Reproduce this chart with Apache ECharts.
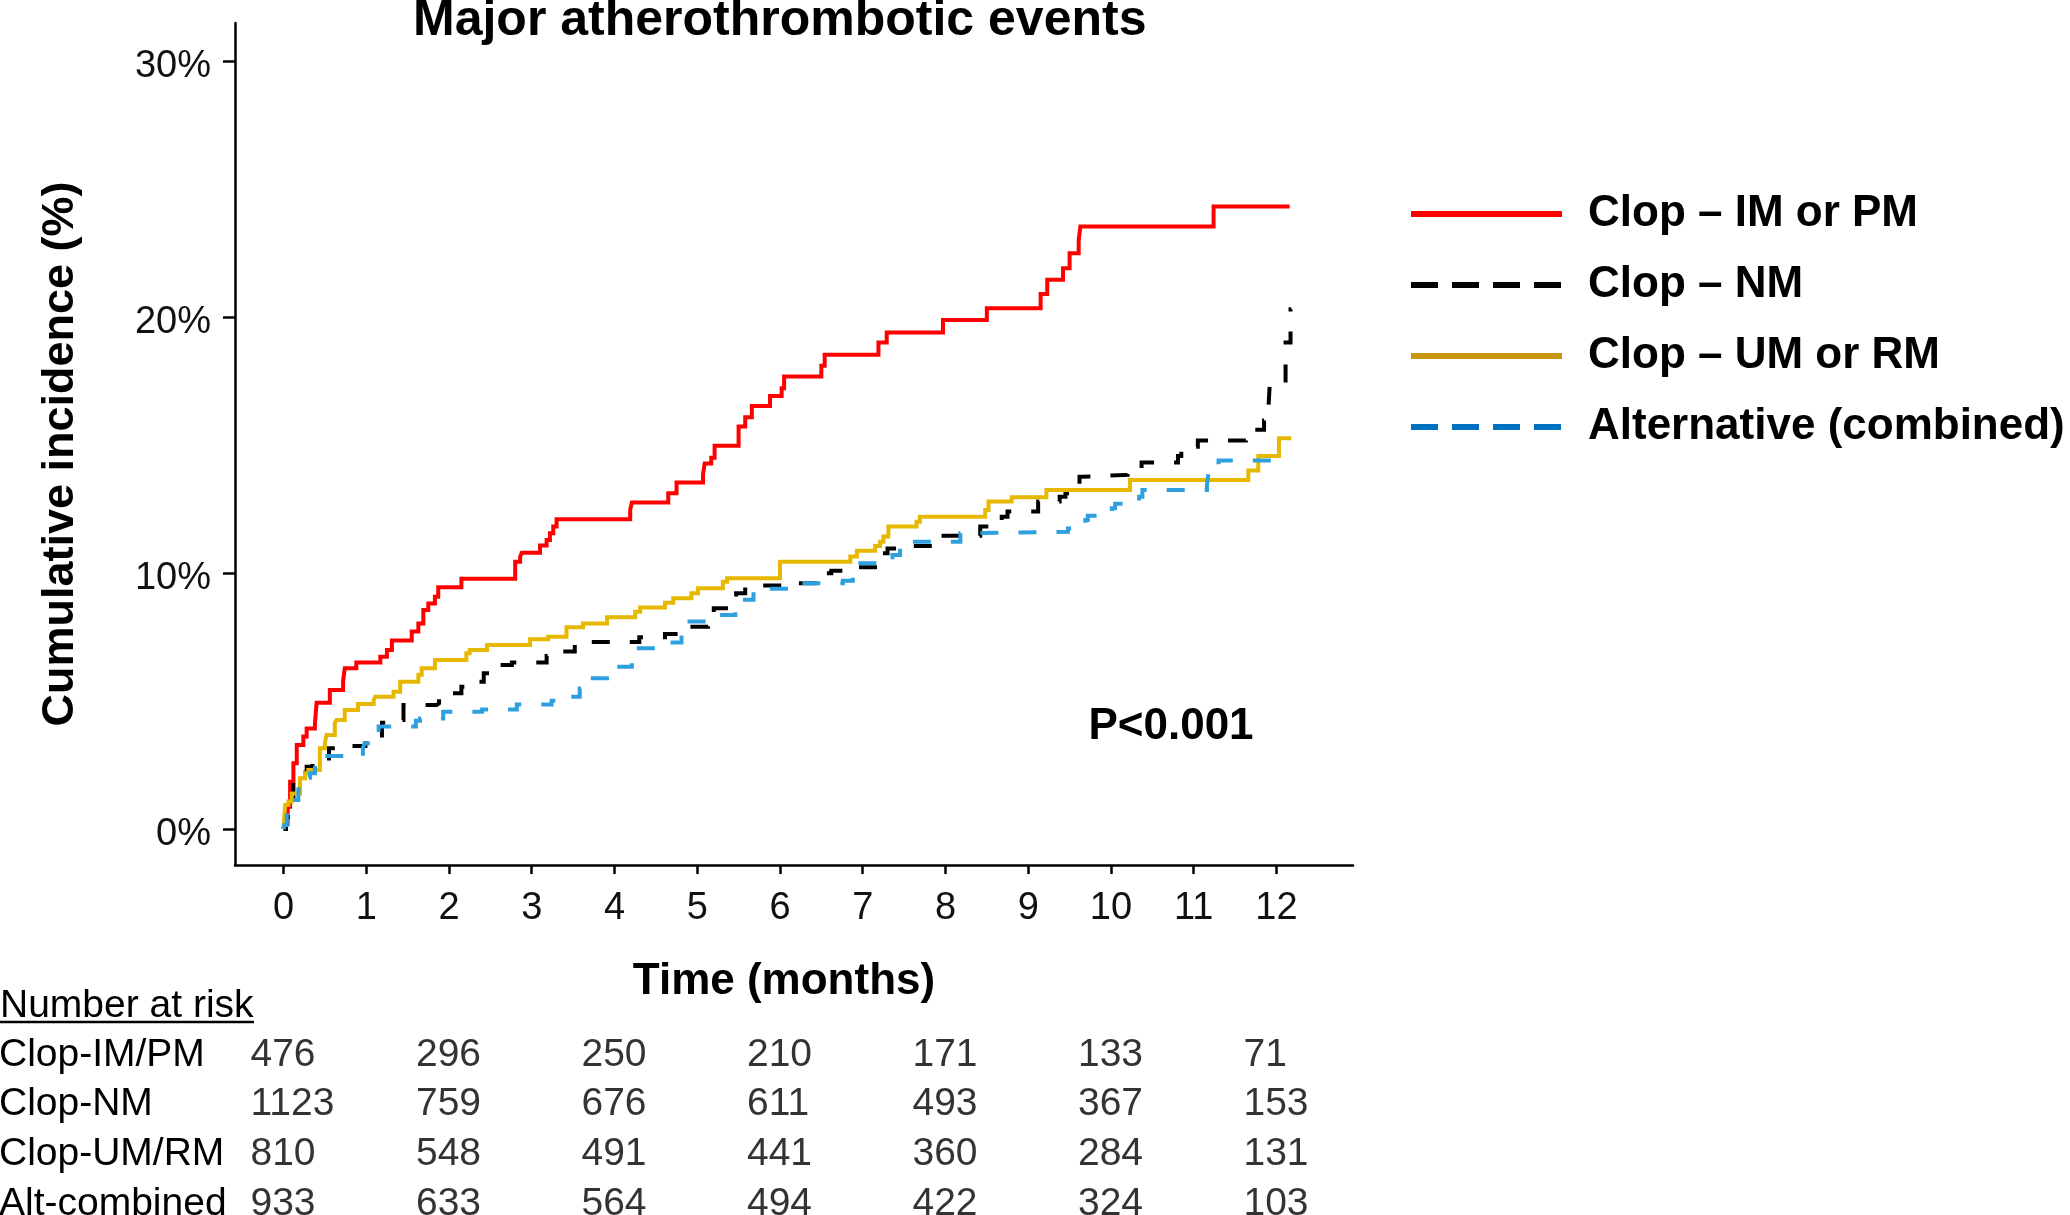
<!DOCTYPE html>
<html><head><meta charset="utf-8">
<script src="https://cdn.jsdelivr.net/npm/echarts@6/dist/echarts.min.js"></script>
<style>html,body{margin:0;padding:0;background:#fff}#c{width:2070px;height:1215px}</style>
</head><body><div id="c"></div>
<script>
const FONT = '"Liberation Sans", Arial, Helvetica, sans-serif';

// ---- tick labels ----
const monthTicks = [0,1,2,3,4,5,6,7,8,9,10,11,12];
const pctTicks = [0,10,20,30];

// ---- series names ----
const seriesNames = ['Clop – IM or PM','Clop – NM','Clop – UM or RM','Alternative (combined)'];

// ---- cumulative incidence (%) step data: [month, percent] ----
const clopIMPM = [[0,0],[0.01,0.2],[0.05,0.87],[0.08,1.85],[0.12,2.57],[0.16,3.28],[0.24,3.61],[0.28,3.93],[0.38,4.13],[0.40,4.93],[0.56,5.43],[0.72,5.75],[0.74,6.28],[0.88,6.50],[1.17,6.73],[1.25,6.99],[1.31,7.36],[1.55,7.71],[1.63,8.03],[1.69,8.55],[1.75,8.81],[1.83,9.07],[1.87,9.44],[2.15,9.77],[2.80,10.44],[2.86,10.64],[2.88,10.79],[3.10,11.07],[3.18,11.29],[3.22,11.55],[3.26,11.81],[3.30,12.10],[4.19,12.46],[4.21,12.75],[4.65,13.11],[4.75,13.53],[5.07,13.85],[5.09,14.28],[5.17,14.50],[5.21,14.97],[5.50,15.72],[5.58,16.08],[5.66,16.52],[5.88,16.91],[6.02,17.21],[6.05,17.67],[6.50,18.09],[6.54,18.52],[7.19,19.0],[7.29,19.39],[7.97,19.88],[8.50,20.34],[9.15,20.90],[9.23,21.45],[9.42,21.90],[9.50,22.49],[9.61,23.0],[9.63,23.53],[11.24,24.31],[12.16,24.31]];
const clopNM = [[0,0],[0.03,0.46],[0.08,1.2],[0.12,1.8],[0.2,2.2],[0.28,2.43],[0.35,2.59],[0.55,3.15],[0.65,3.24],[0.99,3.35],[1.05,3.54],[1.19,4.15],[1.30,4.26],[1.45,4.84],[1.85,4.91],[1.88,5.30],[2.15,5.56],[2.25,5.75],[2.42,6.08],[2.50,6.41],[2.76,6.50],[3.18,6.76],[3.30,6.93],[3.52,7.19],[3.68,7.30],[4.30,7.49],[4.61,7.62],[4.78,7.77],[4.88,7.90],[5.13,8.23],[5.20,8.62],[5.40,8.95],[5.47,9.21],[5.58,9.51],[6.12,9.60],[6.48,9.99],[6.62,10.09],[6.93,10.22],[7.21,10.77],[7.30,10.96],[7.55,11.05],[7.90,11.45],[8.42,11.81],[8.68,12.20],[8.75,12.40],[9.12,12.79],[9.38,12.98],[9.45,13.11],[9.62,13.76],[9.66,13.83],[10.20,14.05],[10.37,14.31],[10.81,14.57],[10.85,14.93],[11.05,15.17],[11.63,15.59],[11.85,15.95],[11.90,16.30],[11.92,17.41],[12.11,19.0],[12.17,20.3],[12.18,20.3]];
const clopUMRM = [[0,0],[0.02,0.94],[0.06,1.07],[0.10,1.39],[0.20,1.98],[0.26,2.18],[0.30,2.30],[0.44,3.15],[0.50,3.35],[0.52,3.67],[0.62,4.13],[0.64,4.26],[0.74,4.65],[0.90,4.88],[1.09,5.04],[1.11,5.17],[1.33,5.36],[1.41,5.75],[1.63,6.02],[1.67,6.28],[1.83,6.60],[2.21,6.86],[2.25,6.99],[2.46,7.19],[2.98,7.41],[3.20,7.51],[3.42,7.88],[3.62,8.03],[3.91,8.27],[4.25,8.49],[4.31,8.65],[4.61,8.84],[4.71,9.01],[4.93,9.21],[5.01,9.40],[5.31,9.66],[5.36,9.79],[6.0,10.44],[6.85,10.64],[6.93,10.87],[7.15,11.05],[7.21,11.22],[7.25,11.42],[7.31,11.81],[7.65,12.0],[7.69,12.20],[8.48,12.46],[8.52,12.79],[8.80,12.96],[9.22,13.24],[10.23,13.63],[11.66,14.0],[11.78,14.57],[12.03,15.26],[12.18,15.26]];
const altCombined = [[0,0],[0.01,0.16],[0.04,0.61],[0.10,0.9],[0.14,1.13],[0.18,1.72],[0.26,2.0],[0.32,2.18],[0.38,2.59],[0.50,2.85],[0.96,3.15],[0.98,3.35],[1.15,4.0],[1.60,4.23],[1.65,4.32],[1.93,4.58],[2.40,4.67],[2.82,4.86],[3.24,5.01],[3.32,5.17],[3.58,5.49],[3.64,5.89],[3.91,6.02],[4.0,6.34],[4.21,6.54],[4.27,7.06],[4.49,7.12],[4.56,7.28],[4.81,7.64],[4.87,8.10],[5.15,8.16],[5.19,8.36],[5.46,8.68],[5.50,8.95],[5.68,9.38],[6.19,9.60],[6.76,9.70],[6.88,10.38],[7.36,10.70],[7.45,11.22],[8.18,11.55],[8.30,11.61],[9.48,11.74],[9.69,12.07],[9.72,12.23],[10.01,12.53],[10.05,12.70],[10.34,12.98],[10.38,13.24],[11.16,13.44],[11.18,13.96],[11.30,14.39],[12.0,14.39]];

// ---- number at risk table ----
const riskTimes = [0,2,4,6,8,10,12];
const riskRows = ['Clop-IM/PM','Clop-NM','Clop-UM/RM','Alt-combined'];
const riskRowIdx = [0,1,2,3];
const riskIMPM = [476,296,250,210,171,133,71];
const riskNM = [1123,759,676,611,493,367,153];
const riskUMRM = [810,548,491,441,360,284,131];
const riskAlt = [933,633,564,494,422,324,103];

// ---- styles ----
const lineColors = ['#FF0000','#000000','#E7B800','#2E9FDF'];
const legendColors = ['#FF0000','#000000','#C8960C','#0070C0'];
const dashed = [false,true,false,true];

const curves = [clopIMPM, clopNM, clopUMRM, altCombined];
const riskData = [riskIMPM, riskNM, riskUMRM, riskAlt];

const tableCells = [];
riskData.forEach((row, r) => row.forEach((v, c) => tableCells.push([riskTimes[c], riskRowIdx[r], v])));

const lineSeries = curves.map((d, i) => ({
  name: seriesNames[i], type: 'line', step: 'end', data: d,
  xAxisIndex: 0, yAxisIndex: 0, symbol: 'none', showSymbol: false, silent: true,
  lineStyle: { color: lineColors[i], width: 4, type: dashed[i] ? [18, 20] : 'solid', cap: 'butt', join: 'miter' },
  itemStyle: { color: lineColors[i] }, z: 2 + i
}));

const chart = echarts.init(document.getElementById('c'));
chart.setOption({
  animation: false,
  backgroundColor: '#fff',
  grid: [
    { left: 235, right: 717, top: 23, bottom: 350, outerBoundsMode: 'none', containLabel: false },
    { left: 235, right: 717, top: 1030, bottom: 0, outerBoundsMode: 'none', containLabel: false }
  ],
  xAxis: [
    { type: 'value', gridIndex: 0, min: -0.586, max: 12.925,
      axisLine: { show: true, onZero: false, lineStyle: { color: '#000', width: 2.5 } },
      axisTick: { show: true, length: 9, lineStyle: { color: '#000', width: 2.5 }, customValues: monthTicks },
      axisLabel: { show: true, margin: 25, fontFamily: FONT, fontSize: 38, lineHeight: 38, color: '#111', customValues: monthTicks },
      splitLine: { show: false } },
    { type: 'value', gridIndex: 1, min: -0.586, max: 12.925, show: false }
  ],
  yAxis: [
    { type: 'value', gridIndex: 0, min: -1.406, max: 31.48,
      axisLine: { show: true, onZero: false, lineStyle: { color: '#000', width: 2.5 } },
      axisTick: { show: true, length: 12, lineStyle: { color: '#000', width: 2.5 }, customValues: pctTicks },
      axisLabel: { show: true, margin: 24, fontFamily: FONT, fontSize: 38, color: '#111', verticalAlign: 'top', lineHeight: 12, formatter: '{value}%', customValues: pctTicks },
      splitLine: { show: false } },
    { type: 'value', gridIndex: 1, inverse: true, min: -0.5, max: 3.215,
      axisLine: { show: false }, axisTick: { show: false }, splitLine: { show: false },
      axisLabel: { show: true, align: 'left', margin: 236, fontFamily: FONT, fontSize: 39, color: '#000', hideOverlap: false,
        customValues: riskRowIdx, formatter: v => riskRows[Math.round(v)] } }
  ],
  legend: {
    orient: 'vertical', left: 1408, top: 189, padding: 0,
    itemWidth: 151, itemHeight: 20, itemGap: 21, selectedMode: false,
    textStyle: { fontFamily: FONT, fontSize: 44, fontWeight: 'bold', color: '#000', lineHeight: 50, padding: [0, 0, 0, 21] },
    data: seriesNames.map((n, i) => ({
      name: n,
      itemStyle: { opacity: 0 },
      lineStyle: { color: legendColors[i], width: 6, type: dashed[i] ? [27, 14] : 'solid', cap: 'butt' }
    }))
  },
  series: lineSeries.concat([{
    type: 'scatter', xAxisIndex: 1, yAxisIndex: 1, data: tableCells, symbolSize: 1, silent: true,
    itemStyle: { color: 'rgba(0,0,0,0)' },
    label: { show: true, position: 'inside', align: 'left', verticalAlign: 'middle', offset: [-33, 0],
      fontFamily: FONT, fontSize: 39, color: '#000', textBorderWidth: 0, textBorderColor: 'transparent',
      formatter: p => String(p.value[2]) }
  }]),
  graphic: [
    { type: 'text', x: 413, y: 21, silent: true, style: { text: 'Major atherothrombotic events', font: 'bold 50px ' + FONT, fill: '#000', align: 'left', verticalAlign: 'middle' } },
    { type: 'text', x: 61, y: 454, rotation: Math.PI / 2, silent: true, style: { text: 'Cumulative incidence (%)', font: 'bold 45px ' + FONT, fill: '#000', align: 'center', verticalAlign: 'middle' } },
    { type: 'text', x: 784, y: 982, silent: true, style: { text: 'Time (months)', font: 'bold 44px ' + FONT, fill: '#000', align: 'center', verticalAlign: 'middle' } },
    { type: 'text', x: 1171, y: 727, silent: true, style: { text: 'P<0.001', font: 'bold 44px ' + FONT, fill: '#000', align: 'center', verticalAlign: 'middle' } },
    { type: 'text', x: 0, y: 1006, silent: true, style: { text: 'Number at risk', font: '39px ' + FONT, fill: '#000', align: 'left', verticalAlign: 'middle' } },
    { type: 'line', silent: true, shape: { x1: 0, y1: 1022, x2: 254, y2: 1022 }, style: { stroke: '#000', lineWidth: 2.5 } }
  ]
});
</script></body></html>
